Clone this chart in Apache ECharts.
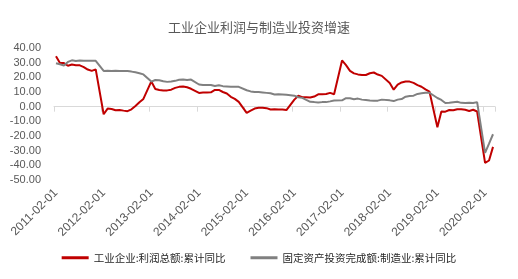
<!DOCTYPE html>
<html><head><meta charset="utf-8">
<script src="https://cdn.jsdelivr.net/npm/echarts@6/dist/echarts.min.js"></script>
<style>html,body{margin:0;padding:0;background:#fff}#c{width:518px;height:279px}</style>
</head><body><div id="c"></div>
<script>
const title = '工业企业利润与制造业投资增速';
const seriesNames = ['工业企业:利润总额:累计同比', '固定资产投资完成额:制造业:累计同比'];
// monthly categories 2011-02 .. 2020-04 (January has no data)
const categories = [];
for (let y = 2011; y <= 2020; y++) {
  for (let m = 1; m <= 12; m++) {
    if (y === 2011 && m < 2) continue;
    if (y === 2020 && m > 4) break;
    categories.push(y + '-' + String(m).padStart(2, '0') + '-01');
  }
}
const profit = [
  34.3,29.7,29.7,27.9,28.7,28.3,28.2,27.0,25.3,24.4,25.4,
  null,-5.2,-1.3,-1.6,-2.4,-2.2,-2.7,-3.1,-1.8,0.5,3.0,5.3,
  null,17.2,12.1,11.4,11.1,11.1,11.6,12.8,13.5,13.7,13.2,12.2,
  null,9.4,9.6,9.6,9.8,11.4,11.4,10.0,9.0,6.7,5.3,3.3,
  null,-4.2,-2.7,-1.3,-0.8,-0.7,-1.0,-1.9,-1.7,-2.0,-1.9,-2.3,
  null,4.8,7.4,6.5,6.4,6.2,6.9,8.4,8.4,8.6,9.4,8.5,
  null,31.5,28.3,24.4,22.7,22.0,21.6,21.6,22.8,23.3,21.9,21.0,
  null,16.1,11.6,15.0,16.5,17.2,17.1,16.2,14.7,13.6,11.8,10.3,
  null,-14.0,-3.3,-3.4,-2.3,-2.4,-1.7,-1.7,-2.1,-2.9,-2.1,-3.3,
  null,-38.3,-36.7,-27.4
];
const mfgInvest = [
  29.6,28.9,28.1,30.5,31.6,31.1,31.5,31.3,31.3,31.3,31.3,
  null,24.4,24.5,24.4,24.5,24.4,24.4,24.3,23.9,23.4,22.8,22.0,
  null,17.1,18.2,18.0,17.3,16.9,17.2,17.6,18.3,18.6,18.2,18.5,
  null,15.1,14.7,14.7,14.8,14.1,14.6,14.0,13.8,13.5,13.5,13.5,
  null,11.2,10.4,10.0,10.0,9.7,9.4,9.1,8.3,8.4,8.3,8.1,
  null,7.5,6.4,6.0,4.6,3.3,3.1,2.8,3.1,3.1,3.6,4.2,
  null,4.3,5.8,5.7,5.1,5.5,4.8,4.5,4.2,4.1,4.1,4.8,
  null,4.3,3.8,4.8,5.2,6.8,7.3,7.5,8.7,9.1,9.5,9.5,
  null,5.9,4.6,2.5,2.7,3.0,3.3,2.6,2.5,2.6,2.5,3.1,
  null,-31.5,-25.2,-18.8
];
const yMin = -50, yMax = 40, yStep = 10;

const chart = echarts.init(document.getElementById('c'));
const txt = '#595959';
chart.setOption({
  animation: false,
  title: { text: title, left: 'center', top: 16,
    textStyle: { fontSize: 13, fontWeight: 'normal', color: txt, fontFamily: 'Noto Sans CJK SC' } },
  legend: { bottom: 11, left: 'center', itemWidth: 27, itemHeight: 3, itemGap: 25, icon: 'rect',
    textStyle: { fontSize: 10.5, color: '#262626', fontFamily: 'Noto Sans CJK SC' },
    data: seriesNames },
  grid: { left: 54, right: 23, top: 48, bottom: 99 },
  xAxis: [
    { type: 'category', data: categories, boundaryGap: true, position: 'bottom',
      axisLine: { show: false, onZero: false }, axisTick: { show: false },
      axisLabel: { interval: 11, rotate: 45, fontSize: 12, color: txt, margin: 11, fontFamily: 'Liberation Sans' } },
    { type: 'category', data: categories, boundaryGap: true, position: 'top',
      axisLine: { show: true, onZero: true, lineStyle: { color: '#d9d9d9', width: 1 } },
      axisTick: { show: true, interval: 11, inside: true, length: 5, lineStyle: { color: '#d9d9d9' } },
      axisLabel: { show: false } }
  ],
  yAxis: { type: 'value', min: yMin, max: yMax, interval: yStep,
    axisLine: { show: false }, axisTick: { show: false }, splitLine: { show: false },
    axisLabel: { fontSize: 11, color: txt, margin: 13, fontFamily: 'Liberation Sans',
      formatter: v => v.toFixed(2) } },
  series: [
    { name: seriesNames[0], type: 'line', data: profit, connectNulls: true, showSymbol: false,
      lineStyle: { color: '#C00000', width: 2 }, itemStyle: { color: '#C00000' } },
    { name: seriesNames[1], type: 'line', data: mfgInvest, connectNulls: true, showSymbol: false,
      lineStyle: { color: '#808080', width: 2 }, itemStyle: { color: '#808080' } }
  ]
});
</script></body></html>
